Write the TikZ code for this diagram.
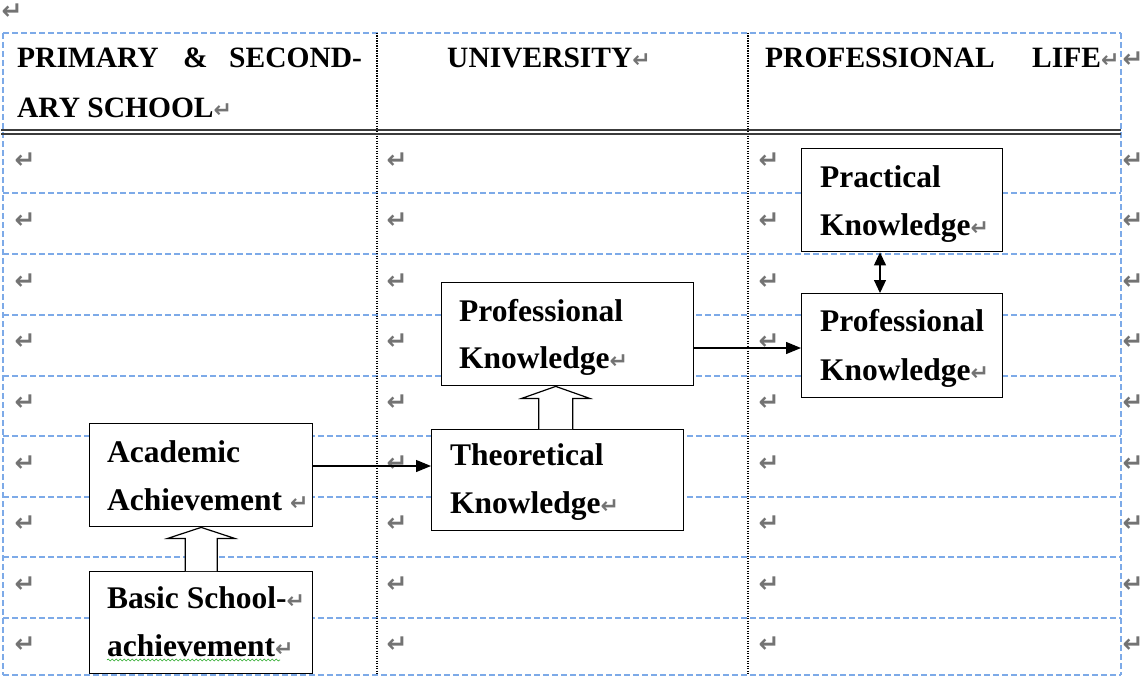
\documentclass[tikz,border=0pt]{standalone}
\usepackage{fontspec}
\setmainfont{Liberation Serif}
\newfontfamily\djv{DejaVu Sans}
\usetikzlibrary{arrows.meta,calc,decorations.pathmorphing}
\definecolor{gridblue}{RGB}{125,170,232}
\definecolor{retgray}{RGB}{115,115,115}
\definecolor{dblgray}{RGB}{60,60,60}
\definecolor{wavygreen}{RGB}{40,170,40}
\newcommand{\retm}{{\color{retgray}\fontsize{22}{22}\djv\bfseries\selectfont ↵}}
\begin{document}
\begin{tikzpicture}[x=1pt,y=-1pt,
  box/.style={draw=black, line width=1.4pt, fill=white, anchor=north west, inner sep=0pt},
  lbl/.style={anchor=base west, inner sep=0pt, font=\bfseries\fontsize{31.5}{36}\selectfont},
  hdr/.style={anchor=base west, inner sep=0pt, font=\bfseries\fontsize{29.5}{36}\selectfont},
  ret/.style={inner sep=0pt, text=retgray, font=\djv\bfseries\fontsize{25}{25}\selectfont},
  gridline/.style={gridblue, line width=1.5pt, dash pattern=on 6pt off 3pt},
  coldiv/.style={black, line width=1.2pt, dash pattern=on 1.2pt off 1.3pt},
  dbl/.style={dblgray, line width=1.4pt},
  arr/.style={line width=1.2pt, -{Triangle[length=15pt,width=12pt]}},
  darr/.style={line width=1.2pt, {Triangle[length=13pt,width=12pt]}-{Triangle[length=13pt,width=12pt]}},
  blockarr/.style={draw, line width=1.2pt, fill=white, line join=miter},
  wavy/.style={wavygreen, line width=0.6pt, decorate, decoration={snake, amplitude=1pt, segment length=4pt}}
]
\useasboundingbox (0,0) rectangle (1143,677);
\fill[white] (0,0) rectangle (1143,677);

% top-left paragraph mark
\node[ret] (m0) at (12,12) {↵};

% table grid
\draw[gridline] (3,33) -- (1121,33);
\draw[gridline] (3,675) -- (1121,675);
\draw[gridline] (3,33) -- (3,675);
\draw[gridline] (1121,33) -- (1121,675);
\foreach \yy in {193,254,315,376,436,497,557,618}
  \draw[gridline] (3,\yy) -- (1121,\yy);
\draw[coldiv] (377,33) -- (377,675);
\draw[coldiv] (748,33) -- (748,675);
\draw[dbl] (1,130) -- (1121,130);
\draw[dbl] (1,134) -- (1121,134);

% cell marks
\foreach \yy [count=\r] in {161,220.5,281.5,342,403,463.5,524,584.5,645}{
  \node[ret] (ma\r) at (25,\yy) {↵};
  \node[ret] (mb\r) at (397,\yy) {↵};
  \node[ret] (mc\r) at (769,\yy) {↵};
  \node[ret] (md\r) at (1133,\yy) {↵};
}
\node[ret] (md0) at (1133,60) {↵};

% headers
\node[hdr] (h1) at (17,67) {PRIMARY};
\node[hdr] (h2) at (183,67) {\&};
\node[hdr] (h3) at (229,67) {SECOND-};
\node[hdr] (h4) at (17,117) {ARY SCHOOL\retm};
\node[hdr] (h5) at (447,67) {UNIVERSITY\retm};
\node[hdr] (h6) at (765,67) {PROFESSIONAL};
\node[hdr] (h7) at (1032,67) {LIFE\retm};

% boxes
\node[box, minimum width=201pt, minimum height=103pt] (pr) at (801,148) {};
\node[box, minimum width=201pt, minimum height=104pt] (pkr) at (801,293) {};
\node[box, minimum width=252pt, minimum height=103pt] (pkm) at (441,282) {};
\node[box, minimum width=252pt, minimum height=101pt] (tk) at (431,429) {};
\node[box, minimum width=223pt, minimum height=103pt] (ach) at (89,423) {};
\node[box, minimum width=223pt, minimum height=102pt] (bs) at (89,571) {};

% box texts
\node[lbl] (pr1) at (820,187) {Practical};
\node[lbl] (pr2) at (820,235) {Knowledge\retm};
\node[lbl] (pkr1) at (820,331.5) {Professional};
\node[lbl] (pkr2) at (820,380) {Knowledge\retm};
\node[lbl] (pkm1) at (459,321) {Professional};
\node[lbl] (pkm2) at (459,368) {Knowledge\retm};
\node[lbl] (tk1) at (450,465) {Theoretical};
\node[lbl] (tk2) at (450,513) {Knowledge\retm};
\node[lbl] (ach1) at (107,462) {Academic};
\node[lbl] (ach2) at (107,510) {Achievement \retm};
\node[lbl] (bs1) at (107,608) {Basic School-\retm};
\node[lbl] (bs2) at (107,656.5) {achievement\retm};
\draw[wavy] ($(bs2.south west)+(0,3)$) -- ($(bs2.south west)+(173,3)$);

% block arrows
\draw[blockarr] ($(bs.north)+(-16,0)$) -- ($(ach.south)+(-16,11)$) -- ($(ach.south)+(-33.5,11)$)
  -- (ach.south) -- ($(ach.south)+(33.5,11)$) -- ($(ach.south)+(16,11)$) -- ($(bs.north)+(16,0)$);
\draw[blockarr] ($(tk.north)+(-19,0)$) -- ($(pkm.south)+(-29,12)$) -- ($(pkm.south)+(-46,12)$)
  -- ($(pkm.south)+(-12,0)$) -- ($(pkm.south)+(22,12)$) -- ($(pkm.south)+(5,12)$) -- ($(tk.north)+(15,0)$);

% line arrows
\draw[arr] ($(ach.north east)+(0,43)$) -- ($(tk.north west)+(0,37)$);
\draw[arr] ($(pkm.north east)+(0,66)$) -- ($(pkr.north west)+(0,55)$);
\draw[darr] ($(pr.south west)+(79,0)$) -- ($(pkr.north west)+(79,0)$);
\end{tikzpicture}
\end{document}
